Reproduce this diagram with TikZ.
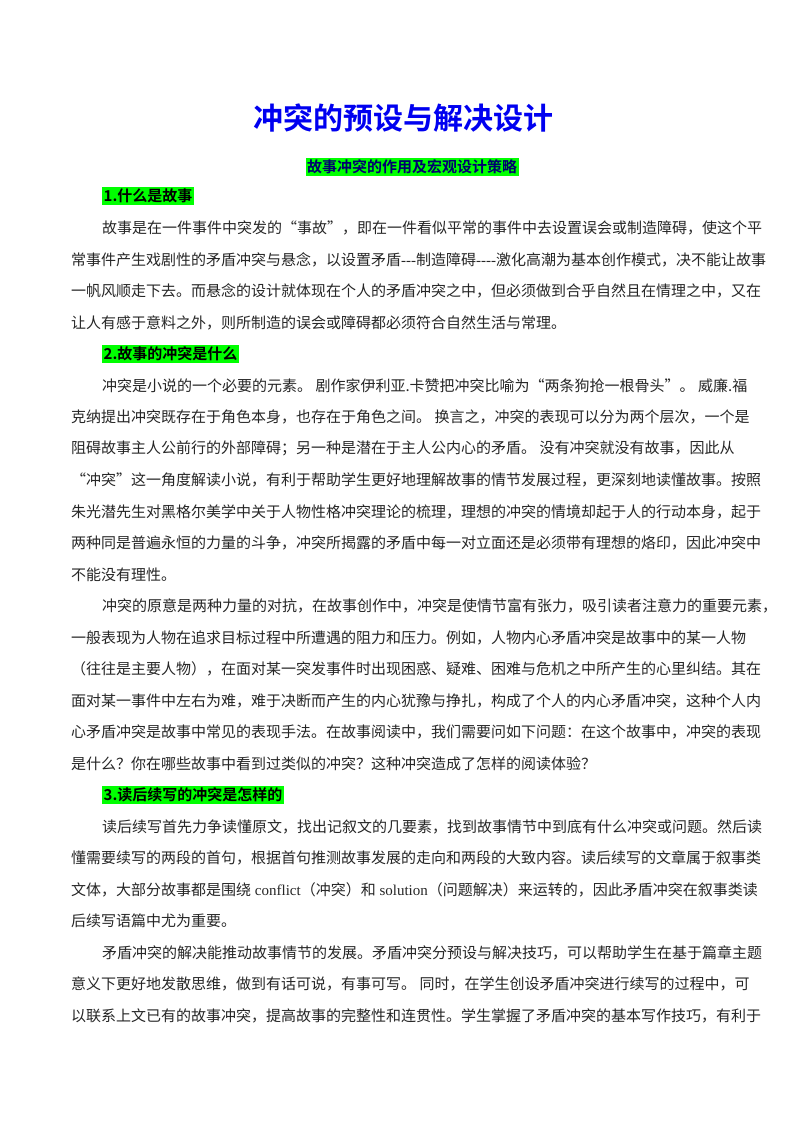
\documentclass[tikz,border=0pt]{standalone}
\usepackage{fontspec}
\setmainfont{Liberation Serif}[Ligatures=NoCommon]
\newfontfamily\cjk{Noto Sans CJK SC}[BoldFont=Noto Sans CJK SC Bold]
\definecolor{hl}{RGB}{0,255,0}
\definecolor{ttl}{RGB}{0,0,240}
\definecolor{sub}{RGB}{0,0,110}
\newcommand{\dsh}{\textrm{-}}
\begin{document}
\begin{tikzpicture}[x=1pt,y=-1pt,
  body/.style={anchor=west,inner sep=0pt,font=\cjk\fontsize{15}{16}\selectfont,text=black!85},
  head/.style={anchor=west,inner sep=1.5pt,fill=hl,font=\cjk\bfseries\fontsize{15}{16}\selectfont},
  ttlstyle/.style={inner sep=0pt,font=\cjk\bfseries\fontsize{30}{32}\selectfont,text=ttl},
  substyle/.style={inner sep=1.5pt,fill=hl,font=\cjk\bfseries\fontsize{15}{16}\selectfont,text=sub}]
\useasboundingbox[fill=white] (0,0) rectangle (800,1132);
\node[ttlstyle] (t) at (403,118) {冲突的预设与解决设计};
\node[substyle] (s) at (412,167) {故事冲突的作用及宏观设计策略};
\node[head] (h1) at (102,196) {1.什么是故事};
\node[body] (a1) at (102,228) {故事是在一件事件中突发的“事故”，即在一件看似平常的事件中去设置误会或制造障碍，使这个平};
\node[body] (a2) at (71,259.5) {常事件产生戏剧性的矛盾冲突与悬念，以设置矛盾\dsh\dsh\dsh 制造障碍\dsh\dsh\dsh\dsh 激化高潮为基本创作模式，决不能让故事};
\node[body] (a3) at (71,291) {一帆风顺走下去。而悬念的设计就体现在个人的矛盾冲突之中，但必须做到合乎自然且在情理之中，又在};
\node[body] (a4) at (71,322.5) {让人有感于意料之外，则所制造的误会或障碍都必须符合自然生活与常理。};
\node[head] (h2) at (102,354) {2.故事的冲突是什么};
\node[body] (b1) at (102,385.5) {冲突是小说的一个必要的元素。 剧作家伊利亚.卡赞把冲突比喻为“两条狗抢一根骨头”。 威廉.福};
\node[body] (b2) at (71,417) {克纳提出冲突既存在于角色本身，也存在于角色之间。 换言之，冲突的表现可以分为两个层次，一个是};
\node[body] (b3) at (71,448.5) {阻碍故事主人公前行的外部障碍；另一种是潜在于主人公内心的矛盾。 没有冲突就没有故事，因此从};
\node[body] (b4) at (71,480) {“冲突”这一角度解读小说，有利于帮助学生更好地理解故事的情节发展过程，更深刻地读懂故事。按照};
\node[body] (b5) at (71,511.5) {朱光潜先生对黑格尔美学中关于人物性格冲突理论的梳理，理想的冲突的情境却起于人的行动本身，起于};
\node[body] (b6) at (71,543) {两种同是普遍永恒的力量的斗争，冲突所揭露的矛盾中每一对立面还是必须带有理想的烙印，因此冲突中};
\node[body] (b7) at (71,574.5) {不能没有理性。};
\node[body] (c1) at (102,606) {冲突的原意是两种力量的对抗，在故事创作中，冲突是使情节富有张力，吸引读者注意力的重要元素，};
\node[body] (c2) at (71,637.5) {一般表现为人物在追求目标过程中所遭遇的阻力和压力。例如，人物内心矛盾冲突是故事中的某一人物};
\node[body] (c3) at (71,669) {（往往是主要人物），在面对某一突发事件时出现困惑、疑难、困难与危机之中所产生的心里纠结。其在};
\node[body] (c4) at (71,700.5) {面对某一事件中左右为难，难于决断而产生的内心犹豫与挣扎，构成了个人的内心矛盾冲突，这种个人内};
\node[body] (c5) at (71,732) {心矛盾冲突是故事中常见的表现手法。在故事阅读中，我们需要问如下问题：在这个故事中，冲突的表现};
\node[body] (c6) at (71,763.5) {是什么？你在哪些故事中看到过类似的冲突？这种冲突造成了怎样的阅读体验？};
\node[head] (h3) at (102,795) {3.读后续写的冲突是怎样的};
\node[body] (d1) at (102,826.5) {读后续写首先力争读懂原文，找出记叙文的几要素，找到故事情节中到底有什么冲突或问题。然后读};
\node[body] (d2) at (71,858) {懂需要续写的两段的首句，根据首句推测故事发展的走向和两段的大致内容。读后续写的文章属于叙事类};
\node[body] (d3) at (71,889.5) {文体，大部分故事都是围绕\textrm{ conflict}（冲突）和\textrm{ solution}（问题解决）来运转的，因此矛盾冲突在叙事类读};
\node[body] (d4) at (71,921) {后续写语篇中尤为重要。};
\node[body] (e1) at (102,952.5) {矛盾冲突的解决能推动故事情节的发展。矛盾冲突分预设与解决技巧，可以帮助学生在基于篇章主题};
\node[body] (e2) at (71,984) {意义下更好地发散思维，做到有话可说，有事可写。 同时，在学生创设矛盾冲突进行续写的过程中，可};
\node[body] (e3) at (71,1015.5) {以联系上文已有的故事冲突，提高故事的完整性和连贯性。学生掌握了矛盾冲突的基本写作技巧，有利于};
\end{tikzpicture}
\end{document}
